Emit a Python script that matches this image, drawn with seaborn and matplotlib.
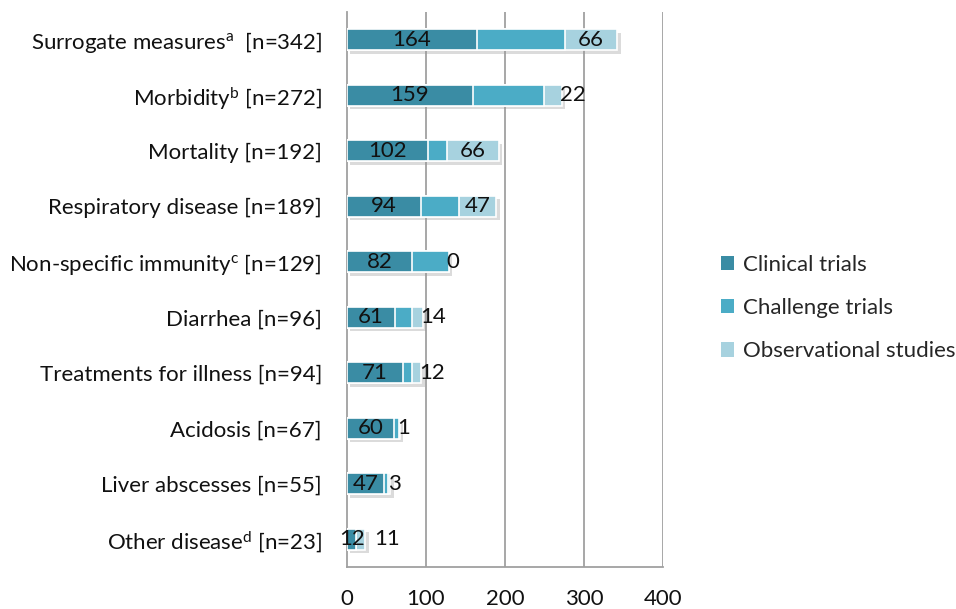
import matplotlib
matplotlib.use("Agg")
import matplotlib.pyplot as plt
import matplotlib.patheffects as pe
from matplotlib.patches import Patch
import seaborn as sns
import pandas as pd
import numpy as np

categories = [
    "Surrogate measures$^{\\mathrm{a}}$  [n=342]",
    "Morbidity$^{\\mathrm{b}}$ [n=272]",
    "Mortality [n=192]",
    "Respiratory disease [n=189]",
    "Non-specific immunity$^{\\mathrm{c}}$ [n=129]",
    "Diarrhea [n=96]",
    "Treatments for illness [n=94]",
    "Acidosis [n=67]",
    "Liver abscesses [n=55]",
    "Other disease$^{\\mathrm{d}}$ [n=23]",
]
clinical = [164, 159, 102, 94, 82, 61, 71, 60, 47, 12]
challenge = [112, 91, 24, 48, 47, 21, 11, 6, 5, 0]
observational = [66, 22, 66, 47, 0, 14, 12, 1, 3, 11]
series_names = ["Clinical trials", "Challenge trials", "Observational studies"]
colors = ["#3A8CA4", "#4BACC6", "#A7D2DF"]
xticks = [0, 100, 200, 300, 400]

sns.set_style("white")
plt.rcParams["font.family"] = ["Lato", "DejaVu Sans"]
plt.rcParams["mathtext.fontset"] = "custom"
plt.rcParams["mathtext.rm"] = "Lato"
plt.rcParams["mathtext.it"] = "Lato:italic"

df = pd.DataFrame({"cat": categories, "clin": clinical, "chal": challenge, "obs": observational})
df["c1"] = df["clin"]
df["c2"] = df["clin"] + df["chal"]
df["c3"] = df["c2"] + df["obs"]

fig = plt.figure(figsize=(9.56, 6.09), dpi=100)
ax = fig.add_axes([347 / 956, 1 - 567 / 609, 316 / 956, 555 / 609])

w = 0.38
sns.barplot(data=df, x="c3", y="cat", orient="h", color=colors[2], width=w,
            edgecolor="white", linewidth=1.2, ax=ax, zorder=3, saturation=1)
shadow_bars = list(ax.patches)
for p in shadow_bars:
    p.set_path_effects([pe.SimplePatchShadow(offset=(2.5, -2.5), shadow_rgbFace="#999999", alpha=0.35), pe.Normal()])
sns.barplot(data=df, x="c2", y="cat", orient="h", color=colors[1], width=w,
            edgecolor="white", linewidth=1.2, ax=ax, zorder=4, saturation=1)
sns.barplot(data=df, x="c1", y="cat", orient="h", color=colors[0], width=w,
            edgecolor="white", linewidth=1.2, ax=ax, zorder=5, saturation=1)

fs = 16
for i, row in df.iterrows():
    ax.text(row["clin"] / 2, i, str(row["clin"]), ha="center", va="center",
            fontsize=fs, color="#111111", zorder=6)
    seg = row["obs"]
    if seg >= 30:
        ax.text(row["c2"] + seg / 2, i, str(seg), ha="center", va="center",
                fontsize=fs, color="#111111", zorder=6)
    else:
        xl = max(row["c3"] - 3, row["clin"] / 2 + 29)
        ax.text(xl, i, str(seg), ha="left", va="center",
                fontsize=fs, color="#111111", zorder=6)

ax.set_xlim(0, 400)
ax.set_ylim(len(categories) - 0.5, -0.5)
ax.set_xticks(xticks)
ax.set_xticklabels([str(t) for t in xticks])
ax.set_xlabel("")
ax.set_ylabel("")
ax.grid(False)
for t in xticks[1:]:
    ax.axvline(t, color="#A0A0A0", linewidth=1.3, zorder=1)

for s in ["top", "right"]:
    ax.spines[s].set_visible(False)
for s in ["left", "bottom"]:
    ax.spines[s].set_color("#A0A0A0")
    ax.spines[s].set_linewidth(1.3)

ax.tick_params(axis="x", which="major", direction="out", length=6, width=1.3,
               color="#A0A0A0", labelsize=fs, pad=10, labelcolor="#111111")
ax.tick_params(axis="y", which="major", length=0, labelsize=fs, pad=18, labelcolor="#111111")
ax.set_yticks(np.arange(-0.5, len(categories), 1.0), minor=True)
ax.tick_params(axis="y", which="minor", direction="out", length=6, width=1.3, color="#A0A0A0")

handles = [Patch(facecolor=c, edgecolor="none") for c in colors]
fig.legend(handles, series_names, loc="center left", bbox_to_anchor=(721 / 956, 1 - 308 / 609),
           frameon=False, fontsize=fs, handlelength=0.6, handleheight=0.6,
           handletextpad=0.4, labelspacing=1.05, borderaxespad=0, borderpad=0)

fig.savefig("out.png", dpi=100)
